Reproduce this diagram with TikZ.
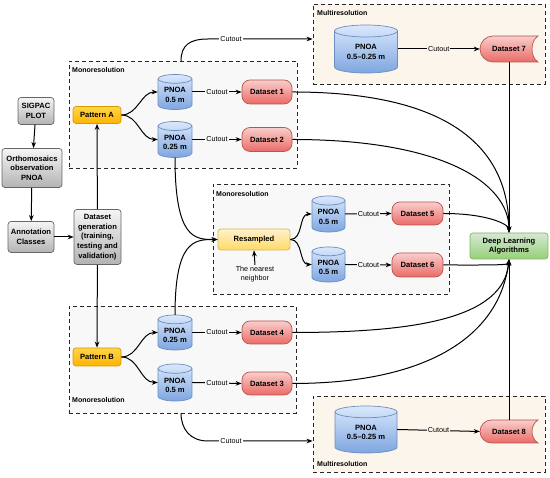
\documentclass[tikz,border=0pt]{standalone}
\usepackage{fontspec}
\setmainfont{Liberation Sans}
\usetikzlibrary{arrows.meta,calc}
\definecolor{gbord}{HTML}{666666}
\definecolor{gtop}{HTML}{F5F5F5}
\definecolor{gbot}{HTML}{B3B3B3}
\definecolor{ybord}{HTML}{D79B00}
\definecolor{ytop}{HTML}{FFD54A}
\definecolor{ybot}{HTML}{FFB300}
\definecolor{rsbord}{HTML}{D6B656}
\definecolor{rstop}{HTML}{FFF2CC}
\definecolor{rsbot}{HTML}{FFD966}
\definecolor{bbord}{HTML}{6C8EBF}
\definecolor{btop}{HTML}{DAE8FC}
\definecolor{bbot}{HTML}{7EA6E0}
\definecolor{rbord}{HTML}{B85450}
\definecolor{rtop}{HTML}{F8CECC}
\definecolor{rbot}{HTML}{EA6B66}
\definecolor{gnbord}{HTML}{82B366}
\definecolor{gntop}{HTML}{D5E8D4}
\definecolor{gnbot}{HTML}{97D077}
\definecolor{monofill}{HTML}{F8F8F8}
\definecolor{multifill}{HTML}{FCF5EB}
\newcommand\fs{\fontsize{7.6}{9.6}\selectfont}
\newcommand\fsl{\fontsize{7.2}{9}\selectfont}
\tikzset{
 arr/.style={-{Stealth[length=6pt,width=4.6pt]}, line width=1pt},
 lbl/.style={font=\fsl, inner sep=1pt},
 base/.style={rounded corners=3pt, inner sep=1pt, align=center, font=\fs\bfseries, line width=0.7pt},
 grayb/.style={base, draw=gbord, top color=gtop, bottom color=gbot},
 yelb/.style={base, draw=ybord, top color=ytop, bottom color=ybot},
 resb/.style={base, draw=rsbord, top color=rstop, bottom color=rsbot},
 redb/.style={base, rounded corners=8pt, draw=rbord, top color=rtop, bottom color=rbot},
 greenb/.style={base, draw=gnbord, top color=gntop, bottom color=gnbot},
 redf/.style={draw=rbord, top color=rtop, bottom color=rbot, line width=0.7pt},
 cylf/.style={draw=bbord, top color=btop, bottom color=bbot, line width=0.7pt},
 cylb/.style={draw=bbord, line width=0.7pt},
 cylnode/.style={inner sep=0pt, draw=none},
 cyltxt/.style={font=\fs\bfseries, align=center, inner sep=0pt},
 grp/.style={draw=black!85, dash pattern=on 4pt off 3pt, line width=0.9pt, inner sep=0pt},
 mono/.style={grp, fill=monofill},
 multi/.style={grp, fill=multifill},
 gtitle/.style={font=\fontsize{7}{8}\selectfont\bfseries, anchor=west, inner sep=0pt},
}
\newcommand\cyl[6]{%
 \pgfmathsetmacro\cyW{#4/2}%
 \pgfmathsetmacro\cyH{#5/2}%
 \pgfmathsetmacro\cyR{#5/8}%
 \path[cylf] (#2-\cyW,#3+\cyH-\cyR) -- (#2-\cyW,#3-\cyH+\cyR) arc[start angle=180,end angle=360,x radius=\cyW,y radius=\cyR] -- (#2+\cyW,#3+\cyH-\cyR) arc[start angle=0,end angle=180,x radius=\cyW,y radius=\cyR] -- cycle;
 \draw[cylb] (#2-\cyW,#3+\cyH-\cyR) arc[start angle=180,end angle=360,x radius=\cyW,y radius=\cyR];
 \node[cylnode, minimum width=#4, minimum height=#5] (#1) at (#2,#3) {};
 \node[cyltxt] (#1t) at (#2,#3-3) {#6};
}
\newcommand\dstore[6]{%
 \pgfmathsetmacro\dsW{#4/2}%
 \pgfmathsetmacro\dsH{#5/2}%
 \path[redf] (#2+\dsW,#3+\dsH) -- (#2-\dsW+\dsH,#3+\dsH) arc[start angle=90,end angle=270,radius=\dsH] -- (#2+\dsW,#3-\dsH) .. controls (#2+\dsW-8,#3-\dsH+5) and (#2+\dsW-8,#3+\dsH-5) .. (#2+\dsW,#3+\dsH) -- cycle;
 \node[inner sep=0pt, minimum width=#4, minimum height=#5, font=\fs\bfseries] (#1) at (#2,#3) {#6};
}
\begin{document}
\begin{tikzpicture}[x=1pt,y=1pt]
\fill[white] (0,0) rectangle (550,478);
\useasboundingbox (0,0) rectangle (550,478);
% groups
\node[multi, minimum width=232, minimum height=80] (multiTop) at (429,434) {};
\node[mono, minimum width=228, minimum height=107] (monoTop) at (183,363.5) {};
\node[mono, minimum width=236, minimum height=110] (monoMid) at (331,239) {};
\node[mono, minimum width=227, minimum height=107] (monoBot) at (182.5,118.5) {};
\node[multi, minimum width=232, minimum height=76] (multiBot) at (429,44) {};
\node[gtitle] (tMultiTop) at (317,465) {Multiresolution};
\node[gtitle] (tMonoTop) at (72,408) {Monoresolution};
\node[gtitle] (tMonoMid) at (216,284) {Monoresolution};
\node[gtitle] (tMonoBot) at (72,78) {Monoresolution};
\node[gtitle] (tMultiBot) at (317,14) {Multiresolution};
% left column
\node[grayb, minimum width=36, minimum height=27] (sig) at (36,367) {SIGPAC\\PLOT};
\node[grayb, minimum width=60, minimum height=39] (orth) at (32,310) {Orthomosaics\\observation\\PNOA};
\node[grayb, minimum width=46, minimum height=31] (ann) at (31,241) {Annotation\\Classes};
\node[grayb, minimum width=47, minimum height=55] (dg) at (97.5,241) {Dataset\\generation\\(training,\\testing and\\validation)};
\node[yelb, minimum width=48, minimum height=17] (pa) at (97,363) {Pattern A};
\node[yelb, minimum width=48, minimum height=18] (pb) at (97,121) {Pattern B};
% cylinders
\cyl{ca1}{175}{386}{34}{35}{PNOA\\0.5 m}
\cyl{ca2}{175}{338.5}{34}{36}{PNOA\\0.25 m}
\cyl{cb1}{175}{145.5}{34}{35}{PNOA\\0.25 m}
\cyl{cb2}{175}{95.5}{34}{37}{PNOA\\0.5 m}
\cyl{cm1}{328.5}{264}{33}{36}{PNOA\\0.5 m}
\cyl{cm2}{328.5}{213.5}{33}{35}{PNOA\\0.5 m}
\cyl{ct}{366}{429}{63}{48}{PNOA\\0.5\textendash0.25 m}
\cyl{cbt}{366}{48.5}{62}{47}{PNOA\\0.5\textendash0.25 m}
% datasets
\node[redb, minimum width=50, minimum height=24] (d1) at (267,386) {Dataset 1};
\node[redb, minimum width=50, minimum height=24] (d2) at (267,338.5) {Dataset 2};
\node[redb, minimum width=50, minimum height=23] (d4) at (267,145.5) {Dataset 4};
\node[redb, minimum width=50, minimum height=23] (d3) at (267,94.5) {Dataset 3};
\node[redb, minimum width=51, minimum height=23] (d5) at (417.5,264.5) {Dataset 5};
\node[redb, minimum width=51, minimum height=24] (d6) at (417.5,213) {Dataset 6};
\dstore{d7}{509}{429}{58}{26}{Dataset 7}
\dstore{d8}{509}{46.5}{58}{23}{Dataset 8}
\node[greenb, minimum width=78, minimum height=26] (dl) at (509,232) {Deep Learning\\Algorithms};
\node[resb, minimum width=72, minimum height=21] (rs) at (254,238.5) {Resampled};
\node[lbl, align=center] (nn) at (255,204) {The nearest\\neighbor};
% left connectors
\draw[arr] (sig) -- (orth);
\draw[arr] (orth) -- (ann);
\draw[arr] (ann) -- (dg);
\draw[arr] (dg) -- (pa);
\draw[arr] (dg) -- (pb);
% pattern to cylinders
\draw[arr] (pa.east) to[out=0,in=180] (ca1.west);
\draw[arr] (pa.east) to[out=0,in=180] (ca2.west);
\draw[arr] (pb.east) to[out=0,in=180] (cb1.west);
\draw[arr] (pb.east) to[out=0,in=180] (cb2.west);
\draw[arr] (rs.east) to[out=0,in=180] (cm1.west);
\draw[arr] (rs.east) to[out=0,in=180] (cm2.west);
% cutouts
\draw[arr] (ca1.east) -- node[lbl, fill=monofill]{Cutout} (d1.west);
\draw[arr] (ca2.east) -- node[lbl, fill=monofill]{Cutout} (d2.west);
\draw[arr] (cb1.east) -- node[lbl, fill=monofill]{Cutout} (d4.west);
\draw[arr] (cb2.east) -- node[lbl, fill=monofill]{Cutout} (d3.west);
\draw[arr] (cm1.east) -- node[lbl, fill=monofill]{Cutout} (d5.west);
\draw[arr] (cm2.east) -- node[lbl, fill=monofill]{Cutout} (d6.west);
\draw[arr] (ct.east) -- node[lbl, fill=multifill]{Cutout} (d7.west);
\draw[arr] (cbt.east) -- node[lbl, fill=multifill]{Cutout} (d8.west);
% resampled inputs
\draw[arr] (nn.north) -- (rs.south);
\draw[arr] (ca2.south) .. controls (175,238.5) and (195,238.5) .. (rs.west);
\draw[arr] (cb1.north) .. controls (175,238.5) and (195,238.5) .. (rs.west);
% outer cutouts
\coordinate (tcA) at (181,417);
\coordinate (tcB) at (208,439);
\coordinate (bcA) at (181,65);
\coordinate (bcB) at (208,37);
\draw[arr] (tcA) .. controls (181,433) and (190,439) .. (tcB) -- node[lbl, fill=white, pos=0.22]{Cutout} (tcB -| multiTop.west);
\draw[arr] (bcA) .. controls (181,49) and (190,37) .. (bcB) -- node[lbl, fill=white, pos=0.22]{Cutout} (bcB -| multiBot.west);
% to deep learning
\draw[arr] (d7.south) -- (dl.north);
\draw[arr] (d8.north) -- (dl.south);
\draw[arr] (d1.east) .. controls +(150,0) and +(0,90) .. (dl.north);
\draw[arr] (d2.east) .. controls +(150,0) and +(0,50) .. (dl.north);
\draw[arr] (d5.east) .. controls +(45,0) and +(0,8) .. (dl.north);
\draw[arr] (d6.east) .. controls +(45,0) and +(0,-6) .. (dl.south);
\draw[arr] (d4.east) .. controls +(120,0) and +(-5,-60) .. (dl.south);
\draw[arr] (d3.east) .. controls +(130,0) and +(-10,-80) .. (dl.south);
\end{tikzpicture}
\end{document}
